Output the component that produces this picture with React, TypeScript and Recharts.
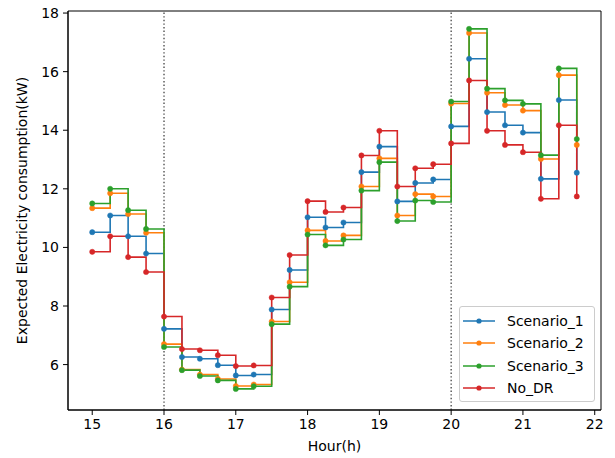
import React from 'react';
import { LineChart, Line, XAxis, YAxis, ReferenceLine, ReferenceArea, Legend } from 'recharts';

const hours = [15, 15.25, 15.5, 15.75, 16, 16.25, 16.5, 16.75, 17, 17.25, 17.5, 17.75, 18, 18.25, 18.5, 18.75, 19, 19.25, 19.5, 19.75, 20, 20.25, 20.5, 20.75, 21, 21.25, 21.5, 21.75];

const scenario1 = [10.52, 11.09, 10.38, 9.79, 7.22, 6.26, 6.2, 5.98, 5.63, 5.66, 7.88, 9.23, 11.03, 10.68, 10.85, 12.57, 13.44, 11.57, 12.2, 12.32, 14.13, 16.44, 14.62, 14.17, 13.92, 12.34, 15.03, 12.55];
const scenario2 = [11.34, 11.85, 11.14, 10.5, 6.7, 5.83, 5.66, 5.51, 5.27, 5.32, 7.47, 8.81, 10.58, 10.22, 10.41, 12.08, 13.04, 11.09, 11.82, 11.74, 14.91, 17.32, 15.28, 14.86, 14.67, 13.02, 15.88, 13.5];
const scenario3 = [11.5, 12.0, 11.27, 10.63, 6.6, 5.81, 5.61, 5.46, 5.17, 5.26, 7.38, 8.66, 10.44, 10.07, 10.27, 11.94, 12.91, 10.9, 11.6, 11.55, 14.98, 17.46, 15.42, 15.02, 14.9, 13.15, 16.11, 13.7];
const noDR = [9.85, 10.38, 9.67, 9.16, 7.64, 6.53, 6.49, 6.32, 5.95, 5.97, 8.29, 9.74, 11.58, 11.21, 11.36, 13.14, 13.98, 12.08, 12.7, 12.84, 13.55, 15.7, 13.98, 13.5, 13.25, 11.66, 14.17, 11.74];

const seriesNames = ['Scenario_1', 'Scenario_2', 'Scenario_3', 'No_DR'];
const seriesColors = ['#1f77b4', '#ff7f0e', '#2ca02c', '#d62728'];
const seriesValues = [scenario1, scenario2, scenario3, noDR];

const xTicks = [15, 16, 17, 18, 19, 20, 21, 22];
const yTicks = [6, 8, 10, 12, 14, 16, 18];
const drWindow = [16, 20];

const X_DOMAIN: [number, number] = [14.6625, 22.0875];
const Y_DOMAIN: [number, number] = [4.45, 18.07];

const data = hours.map((h, i) => {
  const row: Record<string, number> = { hour: h };
  seriesNames.forEach((n, k) => {
    row[n] = seriesValues[k][i];
  });
  return row;
});

const FONT = 'DejaVu Sans';

const LegendBox = () => (
  <div
    style={{
      width: 136,
      height: 96,
      boxSizing: 'border-box',
      border: '1px solid #cccccc',
      borderRadius: 3,
      background: 'rgba(255,255,255,0.8)',
      padding: '3px 0 0 3px',
      fontFamily: FONT,
      fontSize: 14,
      color: '#000',
    }}
  >
    {seriesNames.map((n, i) => (
      <div key={n} style={{ display: 'flex', alignItems: 'center', height: 22.3 }}>
        <svg width={32} height={10} style={{ display: 'block' }}>
          <line x1={0} y1={5} x2={32} y2={5} stroke={seriesColors[i]} strokeWidth={1.5} />
          <circle cx={16} cy={5} r={2.6} fill={seriesColors[i]} />
        </svg>
        <span style={{ marginLeft: 12, lineHeight: '16px' }}>{n}</span>
      </div>
    ))}
  </div>
);

export default function App() {
  return (
    <div style={{ position: 'absolute', left: 0, top: 0, background: '#fff' }}>
      <LineChart width={615} height={458} data={data} margin={{ top: 11, right: 14, left: 0, bottom: 0 }}>
        <XAxis
          dataKey="hour"
          type="number"
          domain={X_DOMAIN}
          ticks={xTicks}
          allowDataOverflow
          height={48}
          tickSize={5}
          tickMargin={4}
          axisLine={{ stroke: '#000' }}
          tickLine={{ stroke: '#000' }}
          tick={{ fill: '#000', fontSize: 14, fontFamily: FONT }}
          label={{ value: 'Hour(h)', position: 'insideBottom', offset: 7, style: { fill: '#000', fontSize: 14, fontFamily: FONT } }}
        />
        <YAxis
          type="number"
          domain={Y_DOMAIN}
          ticks={yTicks}
          allowDataOverflow
          width={68}
          tickSize={5}
          tickMargin={4}
          axisLine={{ stroke: '#000' }}
          tickLine={{ stroke: '#000' }}
          tick={{ fill: '#000', fontSize: 14, fontFamily: FONT }}
          label={{
            value: 'Expected Electricity consumption(kW)',
            angle: -90,
            position: 'center',
            dx: -12,
            style: { fill: '#000', fontSize: 14, fontFamily: FONT, textAnchor: 'middle' },
          }}
        />
        <ReferenceArea
          x1={X_DOMAIN[0]}
          x2={X_DOMAIN[1]}
          y1={Y_DOMAIN[0]}
          y2={Y_DOMAIN[1]}
          fill="none"
          stroke="#000"
          strokeWidth={1}
          ifOverflow="visible"
        />
        {drWindow.map((x) => (
          <ReferenceLine key={x} x={x} stroke="#333" strokeWidth={1.2} strokeDasharray="1.4 2.2" />
        ))}
        {seriesNames.map((n, i) => (
          <Line
            key={n}
            dataKey={n}
            type="stepAfter"
            stroke={seriesColors[i]}
            strokeWidth={1.6}
            dot={{ r: 2.6, fill: seriesColors[i], stroke: seriesColors[i], strokeWidth: 0.5 }}
            activeDot={false}
            isAnimationActive={false}
          />
        ))}
        <Legend
          layout="vertical"
          align="center"
          verticalAlign="middle"
          content={() => <LegendBox />}
          wrapperStyle={{ left: 459, top: 306, width: 136, height: 96, bottom: 'auto', right: 'auto' }}
        />
      </LineChart>
    </div>
  );
}
